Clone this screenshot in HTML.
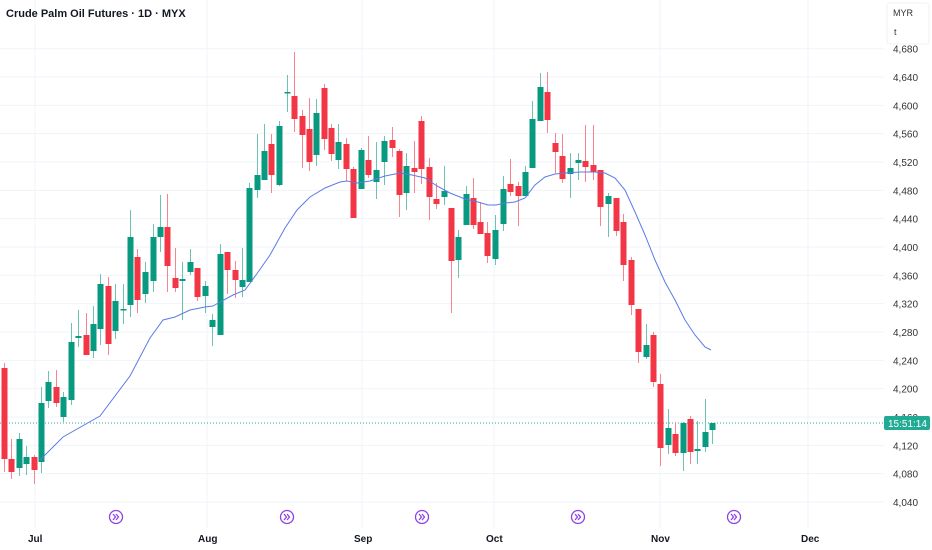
<!DOCTYPE html>
<html><head><meta charset="utf-8"><style>
html,body{margin:0;padding:0;background:#fff;width:932px;height:550px;overflow:hidden}
svg{display:block;font-family:"Liberation Sans",sans-serif}
</style></head><body>
<svg id="c" width="932" height="550" xmlns="http://www.w3.org/2000/svg">
<rect width="932" height="550" fill="#fff"/>
<g id="grid" stroke="#f0f3fa" stroke-width="1"></g>
<g id="vgrid" stroke="#f0f3fa" stroke-width="1">
<line x1="35" y1="0" x2="35" y2="528"/><line x1="207" y1="0" x2="207" y2="528"/><line x1="362" y1="0" x2="362" y2="528"/><line x1="494" y1="0" x2="494" y2="528"/><line x1="660" y1="0" x2="660" y2="528"/><line x1="808" y1="0" x2="808" y2="528"/>
</g>
<g id="labels" font-size="10" fill="#333"></g>
<line x1="0" y1="423" x2="884" y2="423" stroke="#22ab94" stroke-width="1" stroke-dasharray="1,2"/>
<g id="candles"></g>
<polyline fill="none" stroke="#5b7be6" stroke-width="1" points="40,460 63,437 100,416 130,376 150,338 163,320 175,317 190,310 205,307 213,306 220,302 233,295 245,290 256,275 270,255 285,228 297,210 310,197 325,188 340,182 347,181 357,183 370,181 385,176 400,173 412,175 425,178 437,186 450,193 465,199 478,202 488,205 496,205 505,203 515,202 525,198 535,185 545,177 555,174 565,173 580,172 595,172 605,173 615,178 625,190 635,212 645,235 655,260 665,282 675,300 685,320 695,335 705,347 711,350"/>
<text x="6" y="17" font-size="11" fill="#131722" font-weight="bold">Crude Palm Oil Futures · 1D · MYX</text>
<g id="labelsTop"></g>
<rect x="887" y="3" width="42" height="41" rx="3" fill="#fff" stroke="#eef0f3"/>
<text x="893" y="16" font-size="9" fill="#333">MYR</text>
<text x="894" y="35" font-size="9" fill="#333">t</text>
<rect x="884" y="416" width="46" height="14" rx="2" fill="#22ab94"/>
<text x="888" y="427" font-size="10" fill="#fff">15:51:14</text>
<g font-size="10" fill="#131722" font-weight="bold">
<text x="28" y="542">Jul</text><text x="198" y="542">Aug</text><text x="354" y="542">Sep</text><text x="486" y="542">Oct</text><text x="651" y="542">Nov</text><text x="801" y="542">Dec</text>
</g>
<g id="ev" fill="none" stroke="#8e44e0" stroke-width="1.3"></g>
</svg>
<script>
var ns="http://www.w3.org/2000/svg";
function el(t,a,p){var e=document.createElementNS(ns,t);for(var k in a)e.setAttribute(k,a[k]);p.appendChild(e);return e;}
var g=document.getElementById('grid'),lb=document.getElementById('labels');
for(var v=4040;v<=4680;v+=40){var y=502-(v-4040)*0.7083;
 el('line',{x1:0,y1:y,x2:884,y2:y},g);
 var t=el('text',{x:893,y:y+4},lb);t.textContent=(v+'').replace(/(\d)(\d{3})$/,'$1,$2');}
var C=[[4,368,459,363,472],[11,459,472,439,479],[19,468,439,433,476],[26,464,457,446,475],[34,457,470,455,484],[41,462,403,387,473],[48,401,382,371,408],[56,387,403,370,407],[63,417,397,392,422],[71,400,342,323,405],[78,338,336,310,347],[86,335,355,313,355],[93,351,324,306,358],[100,329,284,274,345],[108,286,344,277,355],[115,331,301,284,339],[123,310,309,284,324],[130,305,237,210,317],[137,257,300,249,313],[145,294,272,262,303],[153,281,237,224,292],[160,237,227,195,252],[167,227,266,194,292],[175,278,288,248,292],[182,281,279,262,320],[190,272,262,249,275],[197,268,297,268,301],[205,296,286,281,313],[212,327,320,314,346],[220,335,254,244,335],[227,252,270,252,294],[235,270,280,261,298],[242,287,280,248,297],[249,282,188,183,282],[257,190,175,134,198],[264,180,151,124,180],[271,144,175,134,193],[279,185,126,121,186],[287,93,92,75,112],[294,96,119,52,132],[302,116,135,110,168],[309,129,162,98,171],[316,155,113,99,166],[324,88,139,84,150],[331,128,154,124,161],[338,160,142,124,169],[346,144,169,138,181],[353,169,218,167,218],[361,189,150,148,189],[368,160,175,136,178],[376,182,170,142,199],[384,162,141,136,185],[392,140,148,127,157],[399,151,195,149,217],[406,193,166,153,210],[414,168,172,141,193],[421,121,169,116,184],[429,167,197,158,220],[436,199,204,183,209],[444,197,191,166,205],[451,208,261,208,313],[458,260,237,230,278],[466,225,194,186,225],[473,198,225,178,229],[480,222,234,202,234],[487,233,256,222,263],[495,259,230,215,265],[503,224,189,176,231],[510,184,192,159,196],[518,186,196,182,226],[525,196,172,166,196],[532,168,119,101,168],[540,121,87,73,121],[547,92,120,72,133],[555,143,152,133,173],[562,156,179,134,183],[570,174,168,153,198],[578,163,160,153,180],[585,161,167,125,182],[593,165,172,125,180],[600,170,207,170,226],[608,204,196,193,237],[616,198,231,198,236],[623,222,265,214,281],[631,260,305,257,315],[638,309,352,309,363],[646,357,345,324,359],[653,335,382,332,387],[660,384,448,374,466],[668,445,428,409,454],[675,434,453,422,456],[683,453,423,422,471],[690,419,452,416,464],[697,451,449,421,464],[705,447,432,399,452],[712,430,423,423,444]];
var cg=document.getElementById('candles');
C.forEach(function(c){var up=c[2]<c[1],col=up?'#089981':'#f23645',wc=up?'#6cc3b1':'#f7848e';
 el('line',{x1:c[0]+.5,y1:c[3],x2:c[0]+.5,y2:c[4],stroke:wc,'stroke-width':1},cg);
 var top=Math.min(c[1],c[2]),h=Math.max(1.5,Math.abs(c[2]-c[1]));
 el('rect',{x:c[0]-2.5,y:top,width:6,height:h,fill:col},cg);});
var ev=document.getElementById('ev');
[116,287,422,578,734].forEach(function(x){el('circle',{cx:x,cy:517,r:6.5},ev);
 el('path',{d:'M'+(x-3)+' 514 l2.5 3 l-2.5 3 M'+(x)+' 514 l2.5 3 l-2.5 3'},ev);});
</script>
</body></html>
